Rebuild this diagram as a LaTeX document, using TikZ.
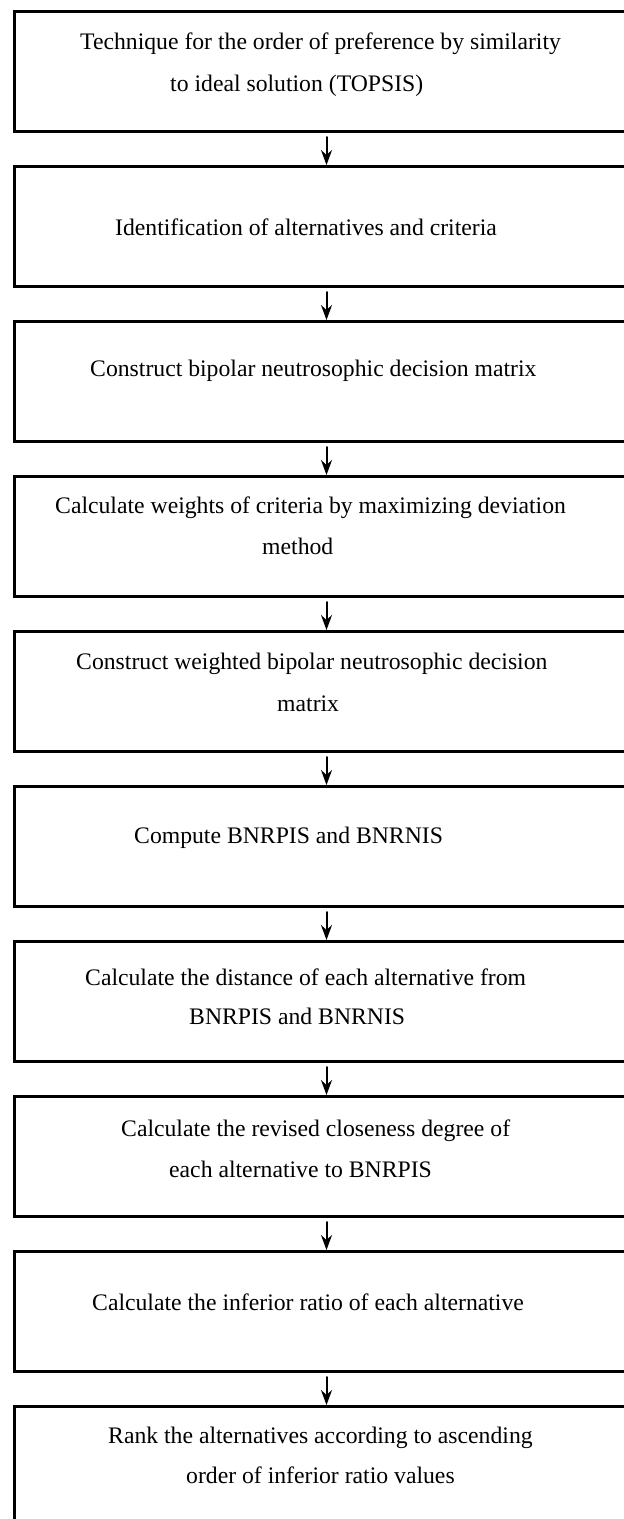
\documentclass[tikz,border=0pt]{standalone}
\usepackage{fontspec}
\setmainfont{Liberation Serif}
\usepackage{tikz}
\usetikzlibrary{arrows.meta}

\begin{document}
\begin{tikzpicture}[x=1pt,y=-1pt,>={Stealth[length=15pt,width=11pt,inset=5pt]},line cap=round,
  font=\fontsize{23.7}{28}\selectfont,
  stepbox/.style={draw=black,line width=3pt,rectangle,inner sep=0pt,anchor=north west,minimum width=624pt,minimum height=120pt},
  steptext/.style={anchor=west,inner sep=0pt,text height=0.7em,text depth=0.2em},
  flow/.style={->,line width=2pt,shorten <=4pt}]
\clip (0,0) rectangle (624,1519);
% boxes
\node[stepbox] (b1) at (13,10) {};
\node[stepbox] (b2) at (13,165) {};
\node[stepbox] (b3) at (13,320) {};
\node[stepbox] (b4) at (13,475) {};
\node[stepbox] (b5) at (13,630) {};
\node[stepbox] (b6) at (13,785) {};
\node[stepbox] (b7) at (13,940) {};
\node[stepbox] (b8) at (13,1095) {};
\node[stepbox] (b9) at (13,1250) {};
\node[stepbox] (b10) at (13,1405) {};
% texts
\node[steptext] (t1a) at (80,47) {Technique for the order of preference by similarity};
\node[steptext] (t1b) at (170,89) {to ideal solution (TOPSIS)};
\node[steptext] (t2) at (115,233) {Identification of alternatives and criteria};
\node[steptext] (t3) at (90,374) {Construct bipolar neutrosophic decision matrix};
\node[steptext] (t4a) at (55,511) {Calculate weights of criteria by maximizing deviation};
\node[steptext] (t4b) at (262,552) {method};
\node[steptext] (t5a) at (76,667) {Construct weighted bipolar neutrosophic decision};
\node[steptext] (t5b) at (277,709) {matrix};
\node[steptext] (t6) at (134,841) {Compute BNRPIS and BNRNIS};
\node[steptext] (t7a) at (85,983) {Calculate the distance of each alternative from};
\node[steptext] (t7b) at (189,1022) {BNRPIS and BNRNIS};
\node[steptext] (t8a) at (121,1134) {Calculate the revised closeness degree of};
\node[steptext] (t8b) at (169,1175) {each alternative to BNRPIS};
\node[steptext] (t9) at (92,1308) {Calculate the inferior ratio of each alternative};
\node[steptext] (t10a) at (108,1441) {Rank the alternatives according to ascending};
\node[steptext] (t10b) at (186,1481) {order of inferior ratio values};
% arrows
\draw[flow] (b1.south) -- (b2.north);
\draw[flow] (b2.south) -- (b3.north);
\draw[flow] (b3.south) -- (b4.north);
\draw[flow] (b4.south) -- (b5.north);
\draw[flow] (b5.south) -- (b6.north);
\draw[flow] (b6.south) -- (b7.north);
\draw[flow] (b7.south) -- (b8.north);
\draw[flow] (b8.south) -- (b9.north);
\draw[flow] (b9.south) -- (b10.north);
\end{tikzpicture}
\end{document}
